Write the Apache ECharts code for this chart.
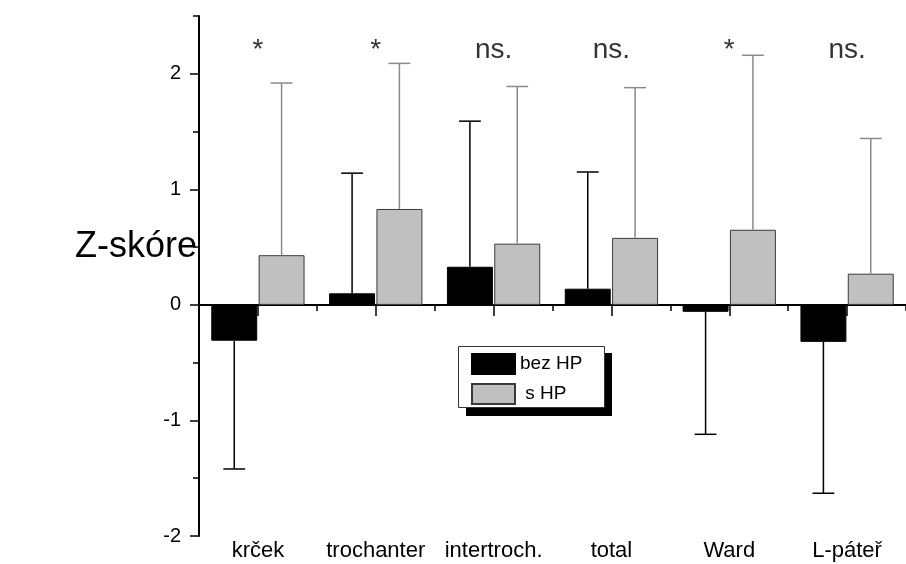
<!DOCTYPE html>
<html>
<head>
<meta charset="utf-8">
<script src="https://cdn.jsdelivr.net/npm/echarts@6/dist/echarts.min.js"></script>
<style>html,body{margin:0;padding:0;background:#fff}#c{width:906px;height:564px}</style>
</head>
<body>
<div id="c"></div>
<script>
const categories = ['krček', 'trochanter', 'intertroch.', 'total', 'Ward', 'L-páteř'];
const bezHP = [-0.31, 0.10, 0.33, 0.14, -0.06, -0.32];
const bezHPErr = [-1.42, 1.14, 1.59, 1.15, -1.12, -1.63];
const sHP = [0.43, 0.83, 0.53, 0.58, 0.65, 0.27];
const sHPErr = [1.92, 2.09, 1.89, 1.88, 2.16, 1.44];
const significance = ['*', '*', 'ns.', 'ns.', '*', 'ns.'];
const yTicks = [-2, -1, 0, 1, 2];

const FONT = '"Liberation Sans", Arial, sans-serif';
const chart = echarts.init(document.getElementById('c'), null, {renderer: 'canvas'});

function errorSeries(values, errs, sign, color) {
  return {
    type: 'custom',
    xAxisIndex: 0, yAxisIndex: 0,
    z: 5, silent: true,
    renderItem: function (params, api) {
      const i = api.value(0), v = api.value(1), e = api.value(2);
      const band = api.size([1, 0])[0];
      const dx = sign * band * 0.20085;
      const p0 = api.coord([i, v]);
      const p1 = api.coord([i, e]);
      const x = p0[0] + dx;
      const hw = band * 0.0925;
      return {
        type: 'group',
        children: [
          {type: 'line', shape: {x1: x, y1: p0[1], x2: x, y2: p1[1]}, style: {stroke: color, lineWidth: 1.5}},
          {type: 'line', shape: {x1: x - hw, y1: p1[1], x2: x + hw, y2: p1[1]}, style: {stroke: color, lineWidth: 1.5}}
        ]
      };
    },
    data: values.map(function (v, i) { return [i, v, errs[i]]; })
  };
}

const option = {
  animation: false,
  backgroundColor: '#fff',
  textStyle: {fontFamily: FONT},
  grid: {left: 199, top: 16, width: 714, height: 520, containLabel: false},
  graphic: [
    {
      type: 'text', left: 75, top: 229, z: 1,
      style: {text: 'Z-skóre', font: '36px ' + FONT, fill: '#000'}
    },
    {
      type: 'rect', left: 466, top: 353, z: 1, silent: true,
      shape: {width: 146, height: 63},
      style: {fill: '#000'}
    },
    {
      type: 'rect', left: 458, top: 346, z: 2, silent: true,
      shape: {width: 146, height: 61},
      style: {fill: '#fff', stroke: '#333', lineWidth: 1}
    }
  ],
  legend: {
    data: ['bez HP', 's HP'],
    orient: 'vertical',
    left: 458, top: 346, z: 20,
    itemWidth: 43, itemHeight: 20, itemGap: 8,
    padding: [7, 23, 4, 13],
    backgroundColor: 'transparent', borderWidth: 0,
    icon: 'rect',
    selectedMode: false,
    formatter: function (n) { return n === 's HP' ? ' ' + n : n; },
    textStyle: {fontSize: 19, fontFamily: FONT, color: '#000', lineHeight: 20}
  },
  xAxis: [
    {
      type: 'category', data: categories, position: 'bottom', gridIndex: 0,
      axisLine: {show: true, onZero: true, lineStyle: {color: '#000', width: 2}},
      axisTick: {show: true, alignWithLabel: true, length: 11, lineStyle: {color: '#000', width: 1.5}},
      axisLabel: {show: false}, splitLine: {show: false}
    },
    {
      type: 'category', data: categories, position: 'bottom', gridIndex: 0,
      axisLine: {show: false, onZero: true},
      axisTick: {show: true, length: 6, lineStyle: {color: '#000', width: 1.5}},
      axisLabel: {show: false}, splitLine: {show: false}
    },
    {
      type: 'category', data: categories, position: 'bottom', gridIndex: 0,
      axisLine: {show: false, onZero: false},
      axisTick: {show: false},
      axisLabel: {show: true, interval: 0, margin: 4, fontSize: 22, fontFamily: FONT, color: '#000'},
      splitLine: {show: false}
    }
  ],
  yAxis: [
    {
      type: 'value', min: -2, max: 2.5, interval: 1, position: 'left',
      axisLine: {show: true, onZero: false, lineStyle: {color: '#000', width: 2}},
      axisTick: {show: true, length: 9, customValues: yTicks, lineStyle: {color: '#000', width: 1.5}},
      axisLabel: {
        show: true, margin: 18, fontSize: 20, fontFamily: FONT, color: '#000',
        customValues: yTicks,
        formatter: function (v) { return Number.isInteger(v) ? String(v) : ''; }
      },
      splitLine: {show: false}
    },
    {
      type: 'value', min: -2, max: 2.5, interval: 0.5, position: 'left',
      axisLine: {show: false, onZero: false},
      axisTick: {show: true, length: 6, lineStyle: {color: '#000', width: 1.5}},
      axisLabel: {show: false},
      splitLine: {show: false}
    }
  ],
  series: [
    {
      name: 'bez HP', type: 'bar', xAxisIndex: 0, yAxisIndex: 0,
      data: bezHP, barWidth: '39%', barGap: '3%',
      itemStyle: {color: '#000', borderColor: '#000', borderWidth: 1},
      z: 3
    },
    {
      name: 's HP', type: 'bar', xAxisIndex: 0, yAxisIndex: 0,
      data: sHP, barWidth: '39%', barGap: '3%',
      itemStyle: {color: '#c0c0c0', borderColor: '#3a3a3a', borderWidth: 1},
      z: 3
    },
    errorSeries(bezHP, bezHPErr, -1, '#000'),
    errorSeries(sHP, sHPErr, 1, '#8a8a8a'),
    {
      type: 'scatter', xAxisIndex: 0, yAxisIndex: 0,
      symbolSize: 0, silent: true, z: 6,
      data: significance.map(function (s, i) { return {value: [i, 2.2], label: {formatter: s}}; }),
      label: {show: true, position: 'inside', fontSize: 28, fontFamily: FONT, color: '#000'}
    }
  ]
};
chart.setOption(option);
</script>
</body>
</html>
